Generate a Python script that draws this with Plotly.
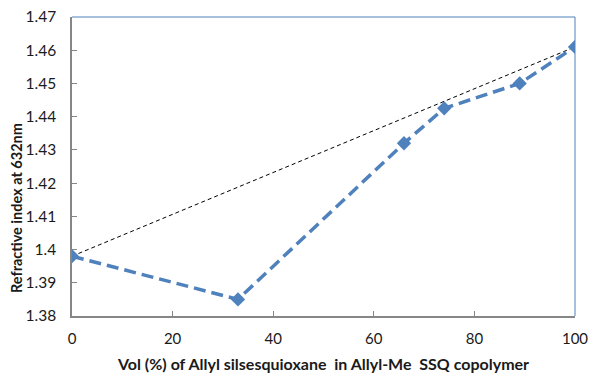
import plotly.graph_objects as go

vol_pct = [0, 33, 66, 74, 89, 100]
refractive_index = [1.398, 1.385, 1.432, 1.4425, 1.450, 1.461]
ideal_x = [0, 100]
ideal_y = [1.398, 1.461]

x_ticks = [0, 20, 40, 60, 80, 100]
y_ticks = [1.38, 1.39, 1.40, 1.41, 1.42, 1.43, 1.44, 1.45, 1.46, 1.47]
y_tick_labels = ["1.38", "1.39", "1.4", "1.41", "1.42", "1.43", "1.44", "1.45", "1.46", "1.47"]

blue = "#4F81BD"
axis_gray = "#868686"
font_family = "Lato, 'Open Sans', sans-serif"

fig = go.Figure()
fig.add_trace(go.Scatter(
    x=ideal_x, y=ideal_y, mode="lines",
    line=dict(color="black", width=1, dash="4px,3px"),
    showlegend=False, hoverinfo="skip"))
fig.add_trace(go.Scatter(
    x=vol_pct, y=refractive_index, mode="lines+markers",
    line=dict(color=blue, width=3.5, dash="12px,6px"),
    marker=dict(symbol="diamond", size=11, color=blue),
    showlegend=False))

fig.update_layout(
    width=590, height=377,
    margin=dict(l=72, r=15, t=17, b=61, autoexpand=False),
    paper_bgcolor="white", plot_bgcolor="white",
    font=dict(family=font_family, size=15, color="#1a1a1a"),
    xaxis=dict(
        range=[0, 100], tickvals=x_ticks, ticks="inside", ticklen=5,
        tickcolor=axis_gray, showline=True, linecolor=axis_gray, linewidth=1.5,
        showgrid=False, zeroline=False, tickfont=dict(size=15),
        automargin=False, ticklabelstandoff=8, ticklabeloverflow="allow",
        title=dict(text="Vol\u00a0(%)\u00a0of\u00a0Allyl\u00a0silsesquioxane\u00a0\u00a0in\u00a0Allyl-Me\u00a0\u00a0SSQ\u00a0copolymer",
                   font=dict(size=16, family=font_family, weight="bold", color="#1a1a1a"), standoff=13)),
    yaxis=dict(
        range=[1.38, 1.47], tickvals=y_ticks, ticktext=y_tick_labels,
        ticks="inside", ticklen=5, tickcolor=axis_gray, showline=True,
        linecolor=axis_gray, linewidth=1.5, showgrid=False, zeroline=False,
        tickfont=dict(size=15.5), automargin=False, ticklabelstandoff=11,
        ticklabeloverflow="allow"),
    annotations=[dict(
        text="Refractive index at 632nm", textangle=-90,
        xref="paper", yref="paper", x=-0.110, y=0.36,
        xanchor="center", yanchor="middle", showarrow=False,
        font=dict(size=14.5, family=font_family, weight="bold", color="#1a1a1a"))],
)

# plot-area border (top and right) in blue
fig.add_shape(type="line", xref="paper", yref="paper", x0=0, x1=1, y0=1, y1=1,
              line=dict(color=blue, width=1))
fig.add_shape(type="line", xref="paper", yref="paper", x0=1, x1=1, y0=0, y1=1,
              line=dict(color=blue, width=1))

fig.write_html("out.html", config={"displayModeBar": False},
               post_script="document.body.style.margin='0';document.body.style.overflow='hidden';")
